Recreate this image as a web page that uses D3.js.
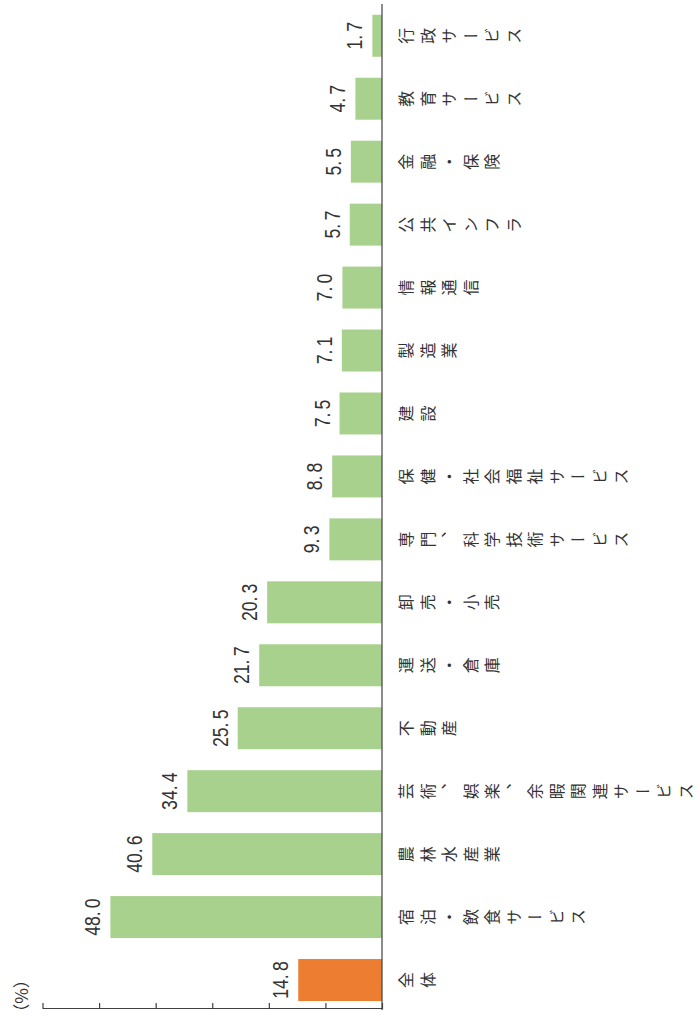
<!DOCTYPE html>
<html>
<head>
<meta charset="utf-8">
<script src="https://cdn.jsdelivr.net/npm/d3@7/dist/d3.min.js"></script>
<style>
  html, body { margin: 0; padding: 0; background: #fff; }
  svg { display: block; }
</style>
</head>
<body>
<div id="chart"></div>
<script>
// Share of firms by industry (%), 全体 first, then descending
const categories = [
  "全体", "宿泊・飲食サービス", "農林水産業", "芸術、娯楽、余暇関連サービス",
  "不動産", "運送・倉庫", "卸売・小売", "専門、科学技術サービス",
  "保健・社会福祉サービス", "建設", "製造業", "情報通信",
  "公共インフラ", "金融・保険", "教育サービス", "行政サービス"
];
const values = [14.8, 48.0, 40.6, 34.4, 25.5, 21.7, 20.3, 9.3, 8.8, 7.5, 7.1, 7.0, 5.7, 5.5, 4.7, 1.7];
const highlight = ["全体"];
const tickValues = [0, 10, 20, 30, 40, 50, 60];
const unitLabel = "（%）";

const W = 700, H = 1030;
const svg = d3.select("#chart").append("svg")
  .attr("width", W).attr("height", H);

// The chart is laid out as a column chart and turned a quarter turn
// counter-clockwise: inner u runs up the page, inner v runs to the right.
const g = svg.append("g").attr("transform", `translate(0,${H}) rotate(-90)`);

const x = d3.scaleBand()
  .domain(categories)
  .range([18.5, 1025.7])
  .paddingInner(0.333)
  .paddingOuter(0.1665);

const y = d3.scaleLinear().domain([0, 60]).range([382, 42.5]);

const rows = categories.map((c, i) => ({ c, v: values[i] }));

// bars
g.selectAll("rect.bar")
  .data(rows)
  .join("rect")
  .attr("class", "bar")
  .attr("x", d => x(d.c))
  .attr("y", d => y(d.v))
  .attr("width", x.bandwidth())
  .attr("height", d => y(0) - y(d.v))
  .attr("fill", d => highlight.includes(d.c) ? "#ed7d31" : "#a9d18e");

// category baseline
g.append("line")
  .attr("x1", 20).attr("x2", 1026)
  .attr("y1", y(0)).attr("y2", y(0))
  .attr("stroke", "#404040").attr("stroke-width", 1.2);

// value axis (ticks only)
const axis = g.append("g")
  .attr("transform", "translate(21,0)")
  .call(d3.axisRight(y).tickValues(tickValues).tickFormat("").tickSize(6).tickSizeOuter(0));
axis.select(".domain").attr("stroke", "#404040").attr("stroke-width", 1.2);
axis.selectAll(".tick line").attr("stroke", "#404040").attr("stroke-width", 1.2);

// unit label
g.append("text")
  .attr("x", 34).attr("y", 20)
  .attr("text-anchor", "middle")
  .attr("dominant-baseline", "central")
  .attr("font-family", "'Noto Sans CJK JP', sans-serif")
  .attr("font-size", 17)
  .attr("fill", "#333")
  .text(unitLabel);

// value labels: narrow digits with a small gap after the decimal point
const fmt = d3.format(".1f");
const vl = g.selectAll("text.val")
  .data(rows)
  .join("text")
  .attr("class", "val")
  .attr("transform", d => `translate(${x(d.c) + x.bandwidth() / 2},${y(d.v) - 10}) scale(0.8,1)`)
  .attr("text-anchor", "middle")
  .attr("font-family", "'Liberation Sans', Arial, sans-serif")
  .attr("font-size", 22)
  .attr("fill", "#333");
vl.append("tspan").text(d => fmt(d.v).split(".")[0] + ".");
vl.append("tspan").attr("dx", 4).text(d => fmt(d.v).split(".")[1]);

// category labels, set vertically
g.selectAll("text.cat")
  .data(categories)
  .join("text")
  .attr("class", "cat")
  .attr("x", d => x(d) + x.bandwidth() / 2)
  .attr("y", 398)
  .attr("font-family", "'Noto Sans CJK JP', sans-serif")
  .attr("font-size", 16)
  .attr("fill", "#333")
  .style("writing-mode", "vertical-rl")
  .style("letter-spacing", "5.5px")
  .text(d => d);
</script>
</body>
</html>
